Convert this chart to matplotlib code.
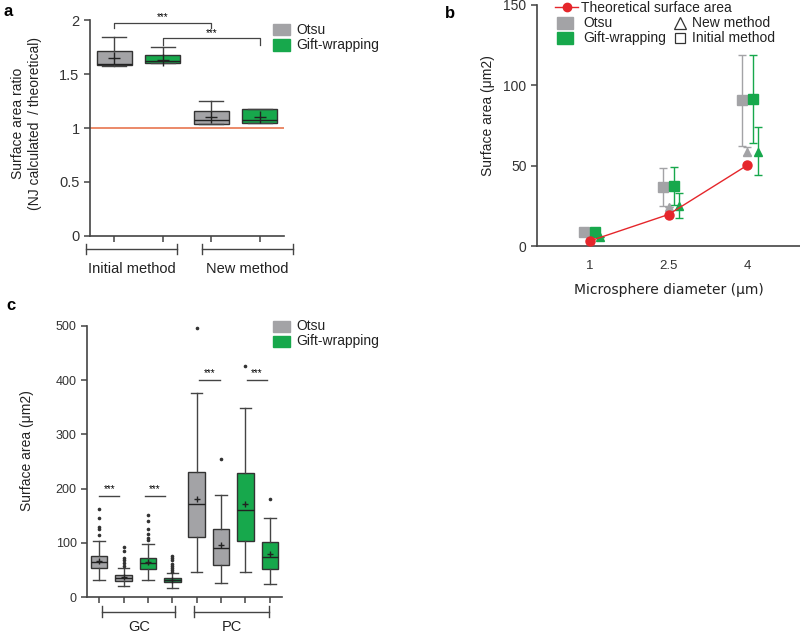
import numpy as np
import matplotlib
matplotlib.use("Agg")
import matplotlib.pyplot as plt
from matplotlib.patches import Rectangle
import matplotlib.transforms as mtransforms

plt.rcParams['font.family'] = ['Liberation Sans', 'DejaVu Sans']

W, H = 800, 633
GREY = '#a3a3a6'
GREEN = '#17a84c'
DGREEN = '#1e8a4c'
RED = '#e5262b'
AX = '#444444'

# ---- panel a data (ratio NJ calculated / theoretical)
a_labels = ['Otsu initial', 'Gift initial', 'Otsu new', 'Gift new']
a_q1 = [1.58, 1.60, 1.04, 1.05]
a_med = [1.59, 1.62, 1.07, 1.075]
a_q3 = [1.71, 1.68, 1.16, 1.18]
a_lo = [1.57, 1.60, 1.035, 1.05]
a_hi = [1.84, 1.75, 1.25, 1.18]
a_mean = [1.65, 1.63, 1.10, 1.10]
a_colors = [GREY, GREEN, GREY, GREEN]

# ---- panel b data
diam = [1, 2.5, 4]
theo = [3.1, 19.6, 50.3]
otsu_init = [8.5, 36.9, 90.9]
otsu_init_lo = [8.5, 25.1, 62.4]
otsu_init_hi = [8.5, 48.7, 118.9]
otsu_new = [5.8, 24.1, 58.7]
otsu_new_lo = [5.8, 24.1, 56.5]
otsu_new_hi = [5.8, 24.1, 61.5]
gift_init = [8.5, 37.5, 91.5]
gift_init_lo = [8.5, 25.7, 63.9]
gift_init_hi = [8.5, 49.4, 118.9]
gift_new = [5.6, 25.1, 58.3]
gift_new_lo = [5.6, 17.6, 44.4]
gift_new_hi = [5.6, 33.0, 73.9]

# ---- panel c data (surface area, um2)
c_q1 = [54, 29.5, 52, 27, 110.7, 59.6, 103, 51.7]
c_med = [64.6, 35, 63, 31, 172, 90, 161, 74.4]
c_q3 = [76, 40, 72, 34.4, 230.6, 126, 229.4, 101.5]
c_lo = [31, 19.7, 32, 17, 47, 25.8, 46, 23.4]
c_hi = [103, 54, 98, 44, 376, 187.6, 349, 145]
c_mean = [66, 36, 64, 31, 181, 96.6, 172, 78.7]
c_fliers = [[163, 146, 129, 126, 114],
            [92, 85, 72, 69, 63, 58],
            [152, 140, 126, 116, 109.5, 104.5],
            [75.6, 72, 68, 61.5, 56.6, 53, 49, 47],
            [497], [254], [426], [180]]
c_colors = [GREY, GREY, GREEN, DGREEN, GREY, GREY, GREEN, GREEN]

fig = plt.figure(figsize=(W / 100, H / 100), dpi=100)


def px_axes(l, t, r, b):
    return fig.add_axes([l / W, 1 - b / H, (r - l) / W, (b - t) / H])


def fx(x):
    return x / W


def fy(y):
    return 1 - y / H


def style(ax, size):
    for s in ['top', 'right']:
        ax.spines[s].set_visible(False)
    for s in ['left', 'bottom']:
        ax.spines[s].set_color(AX)
        ax.spines[s].set_linewidth(1.2)
    ax.tick_params(direction='out', length=4, width=1.1, color=AX,
                   labelsize=size, labelcolor='#333333')


def fig_legend(x, y1, y2, names, colors):
    for yy, n, c in zip([y1, y2], names, colors):
        fig.patches.append(Rectangle((fx(x), fy(yy + 5.5)), 17 / W, 11 / H,
                                     transform=fig.transFigure, color=c))
        fig.text(fx(x + 23), fy(yy), n, fontsize=10, va='center', color='#222')


def boxes(ax, q1, med, q3, lo, hi, mean, colors, width, fliers=None, meansize=8):
    stats = []
    for i in range(len(q1)):
        stats.append(dict(q1=q1[i], med=med[i], q3=q3[i], whislo=lo[i],
                          whishi=hi[i], mean=mean[i],
                          fliers=fliers[i] if fliers else []))
    pos = np.arange(1, len(q1) + 1)
    bp = ax.bxp(stats, positions=pos, widths=width, patch_artist=True,
                showmeans=True, showcaps=True,
                boxprops=dict(edgecolor='#333333', linewidth=1.0),
                medianprops=dict(color='#222222', linewidth=1.0),
                whiskerprops=dict(color='#444444', linewidth=1.0),
                capprops=dict(color='#444444', linewidth=1.0),
                meanprops=dict(marker='+', markeredgecolor='#222222',
                               markersize=meansize, markeredgewidth=1.0),
                flierprops=dict(marker='o', markersize=1.6, markerfacecolor='#333',
                                markeredgecolor='#333'))
    for p, c in zip(bp['boxes'], colors):
        p.set_facecolor(c)
    for cap in bp['caps']:
        xd = cap.get_xdata()
        m = np.mean(xd)
        cap.set_xdata([m - width * 0.35, m + width * 0.35])
    return bp


# ================= panel a
ax = px_axes(90, 20, 284, 236)
style(ax, 10.5)
ax.axhline(1.0, color='#e8764f', lw=1.2, zorder=1)
boxes(ax, a_q1, a_med, a_q3, a_lo, a_hi, a_mean, a_colors, 0.72, meansize=9)
ax.set_xlim(0.5, 4.5)
ax.set_ylim(0, 2)
ax.set_yticks([0, 0.5, 1, 1.5, 2])
ax.set_yticklabels(['0', '0.5', '1', '1.5', '2'])
ax.set_xticks([1, 2, 3, 4])
ax.set_xticklabels([])
ax.set_ylabel('Surface area ratio\n(NJ calculated  / theoretical)', fontsize=10,
              color='#222')
ax.yaxis.set_label_coords(-0.25, 0.52)
# significance brackets
for x0, x1, yt, yb in [(1, 3, 1.975, 1.93), (2, 4, 1.83, 1.77)]:
    ax.plot([x0, x0, x1, x1], [yb, yt, yt, yb], color='#444', lw=0.9, clip_on=False)
    ax.text((x0 + x1) / 2, yt + 0.005, '***', ha='center', va='bottom', fontsize=7)
tr = mtransforms.blended_transform_factory(ax.transData, ax.transAxes)
for x0, x1, lab in [(0.42, 2.29, 'Initial method'), (2.81, 4.69, 'New method')]:
    ax.plot([x0, x1], [-0.06, -0.06], color='#444', lw=1.0, transform=tr, clip_on=False)
    ax.plot([x0, x0], [-0.035, -0.085], color='#444', lw=1.0, transform=tr, clip_on=False)
    ax.plot([x1, x1], [-0.035, -0.085], color='#444', lw=1.0, transform=tr, clip_on=False)
    ax.text((x0 + x1) / 2, -0.12, lab, transform=tr, ha='center', va='top',
            fontsize=10.5, color='#222')
fig_legend(273, 29.5, 45, ['Otsu', 'Gift-wrapping'], [GREY, GREEN])
fig.text(fx(4), fy(12), 'a', fontsize=12, fontweight='bold', va='center')

# ================= panel b
bx = px_axes(537, 5, 800, 246)
style(bx, 9.5)
d = np.array(diam)
bx.plot(d, theo, '-o', color=RED, lw=1, markersize=6.5, zorder=5,
        markeredgecolor=RED)
ek = dict(ls='none', capsize=3, elinewidth=1.0, capthick=1.0)
bx.errorbar(d - 0.1, otsu_init,
            yerr=[np.subtract(otsu_init, otsu_init_lo), np.subtract(otsu_init_hi, otsu_init)],
            marker='s', ms=7, color=GREY, **ek)
bx.errorbar(d, otsu_new,
            yerr=[np.subtract(otsu_new, otsu_new_lo), np.subtract(otsu_new_hi, otsu_new)],
            marker='^', ms=6, color=GREY, **ek)
bx.errorbar(d + 0.1, gift_init,
            yerr=[np.subtract(gift_init, gift_init_lo), np.subtract(gift_init_hi, gift_init)],
            marker='s', ms=7, color=GREEN, **ek)
bx.errorbar(d + 0.2, gift_new,
            yerr=[np.subtract(gift_new, gift_new_lo), np.subtract(gift_new_hi, gift_new)],
            marker='^', ms=6, color=GREEN, **ek)
bx.set_xlim(0, 5)
bx.set_ylim(0, 150)
bx.set_xticks(diam)
bx.set_xticklabels(['1', '2.5', '4'])
bx.set_yticks([0, 50, 100, 150])
bx.tick_params(axis='x', length=0, pad=10)
bx.tick_params(axis='y', labelsize=10)
bx.set_ylabel('Surface area (μm2)', fontsize=10, color='#222')
bx.yaxis.set_label_coords(-0.16, 0.54)
bx.set_xlabel('Microsphere diameter (μm)', fontsize=10, family=['DejaVu Sans'],
              color='#222', labelpad=8)
# legend b
fig.lines.append(plt.Line2D([fx(555), fx(578)], [fy(7), fy(7)], color=RED, lw=1,
                            transform=fig.transFigure))
fig.lines.append(plt.Line2D([fx(567)], [fy(7)], marker='o', ms=6, color=RED,
                            transform=fig.transFigure))
fig.text(fx(581), fy(7.5), 'Theoretical surface area', fontsize=10, va='center', color='#222')
for yy, n, c in [(23, 'Otsu', GREY), (38, 'Gift-wrapping', GREEN)]:
    fig.patches.append(Rectangle((fx(557), fy(yy + 5.5)), 16 / W, 11 / H,
                                 transform=fig.transFigure, color=c))
    fig.text(fx(583), fy(yy), n, fontsize=10, va='center', color='#222')
for yy, n, m in [(23, 'New method', '^'), (38, 'Initial method', 's')]:
    fig.lines.append(plt.Line2D([fx(680)], [fy(yy)], marker=m, ms=8 if m == '^' else 7,
                                markerfacecolor='none', markeredgecolor='#333',
                                markeredgewidth=0.9, transform=fig.transFigure))
    fig.text(fx(692), fy(yy), n, fontsize=10, va='center', color='#222')
fig.text(fx(445), fy(14), 'b', fontsize=12, fontweight='bold', va='center')

# ================= panel c
cx = px_axes(87, 326, 282, 597)
style(cx, 9)
boxes(cx, c_q1, c_med, c_q3, c_lo, c_hi, c_mean, c_colors, 0.68,
      fliers=c_fliers, meansize=4)
cx.set_xlim(0.5, 8.5)
cx.set_ylim(0, 500)
cx.set_yticks([0, 100, 200, 300, 400, 500])
cx.set_xticks(np.arange(1, 9))
cx.set_xticklabels([])
cx.set_ylabel('Surface area (μm2)', fontsize=10, color='#222')
cx.yaxis.set_label_coords(-0.27, 0.54)
for x0, x1, yy in [(1.0, 1.83, 187), (2.86, 3.7, 187), (5.1, 5.95, 400), (7.05, 7.9, 400)]:
    cx.plot([x0, x1], [yy, yy], color='#444', lw=1.0)
    cx.text((x0 + x1) / 2, yy + 3, '***', ha='center', va='bottom', fontsize=7)
tr = mtransforms.blended_transform_factory(cx.transData, cx.transAxes)
for x0, x1, lab in [(1.13, 4.13, 'GC'), (4.91, 7.95, 'PC')]:
    cx.plot([x0, x1], [-0.055, -0.055], color='#444', lw=1.0, transform=tr, clip_on=False)
    cx.plot([x0, x0], [-0.035, -0.075], color='#444', lw=1.0, transform=tr, clip_on=False)
    cx.plot([x1, x1], [-0.035, -0.075], color='#444', lw=1.0, transform=tr, clip_on=False)
    cx.text((x0 + x1) / 2, -0.085, lab, transform=tr, ha='center', va='top',
            fontsize=10.5, color='#222')
fig_legend(273, 326, 341, ['Otsu', 'Gift-wrapping'], [GREY, GREEN])
fig.text(fx(6), fy(305), 'c', fontsize=12, fontweight='bold', va='center')

fig.savefig('out.png', dpi=100)
